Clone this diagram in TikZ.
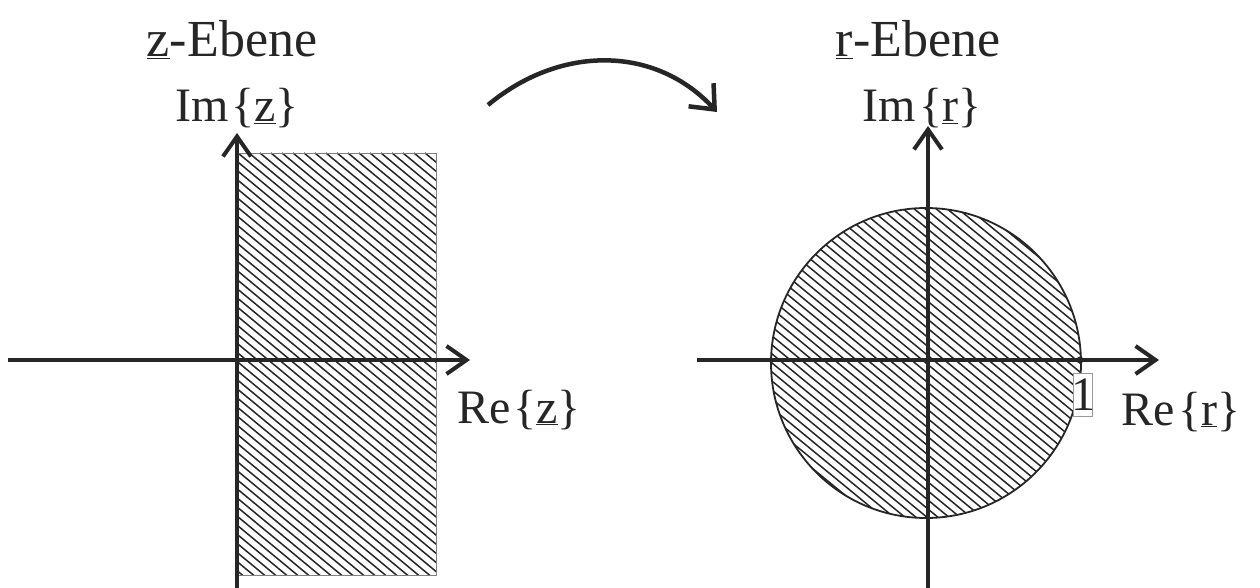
\documentclass[tikz,border=0pt]{standalone}
\usepackage{fontspec}
\setmainfont{Liberation Serif}
\usetikzlibrary{arrows.meta}
\begin{document}
\begin{tikzpicture}[x=1pt,y=-1pt,
  axis/.style={line width=4pt,draw=black!85,-{Straight Barb[length=20pt,width=28pt,line width=4pt]}},
  hatch/.style={line width=1.5pt,draw=black!85},
  lbl/.style={font=\fontsize{48}{50}\selectfont,text=black!85,inner sep=0pt,anchor=base},
  ttl/.style={font=\fontsize{52}{54}\selectfont,text=black!85,inner sep=0pt,anchor=base}]
\useasboundingbox (0,0) rectangle (1260,588);
% left hatched rectangle
\begin{scope}
  \clip (237,153) rectangle (436,575);
  \foreach \i in {-560,-549,...,220} {\draw[hatch] (237+\i,153) -- (237+\i+520,583);}
\end{scope}
\draw[line width=0.6pt,draw=black!50] (237,153) -- (436,153) -- (436,575) -- (237,575);
% right hatched circle
\begin{scope}
  \clip (926,363) circle (155);
  \foreach \i in {-352,-341,...,352} {\draw[hatch] (926+\i-195,203) -- (926+\i+195,523);}
\end{scope}
\draw[line width=1.8pt,draw=black!85] (926,363) circle (155);
% axes
\coordinate (lx0) at (8,360); \coordinate (lx1) at (470,360);
\coordinate (ly0) at (237,588); \coordinate (ly1) at (237,133);
\draw[axis] (lx0) -- (lx1);
\draw[axis] (ly0) -- (ly1);
\coordinate (rx0) at (697,360); \coordinate (rx1) at (1159,360);
\coordinate (ry0) at (928,588); \coordinate (ry1) at (928,126);
\draw[axis] (rx0) -- (rx1);
\draw[axis] (ry0) -- (ry1);
% dot at 1
\node[circle,fill=black!85,inner sep=0pt,minimum size=7pt] (one) at (1080,360) {};
\node[draw=black!40,fill=white,line width=0.6pt,inner xsep=-2.5pt,inner ysep=5.5pt,font=\fontsize{48}{50}\selectfont,text=black!85] (onel) at (1083,395) {1};
% labels
\node[ttl] (zt) at (232,57) {\underline{z}-Ebene};
\node[lbl] (zi) at (237,122) {Im\kern0.06em\{\underline{z}\}};
\node[lbl] (zr) at (519,423) {Re\kern0.06em\{\underline{z}\}};
\node[ttl] (rt) at (918,57) {\underline{r}-Ebene};
\node[lbl] (ri) at (922,122) {Im\kern0.06em\{\underline{r}\}};
\node[lbl] (rr) at (1181,425) {Re\kern0.06em\{\underline{r}\}};
% mapping arrow
\coordinate (a0) at (488,105); \coordinate (a1) at (717,112);
\draw[line width=4.5pt,draw=black!85,-{Straight Barb[length=20pt,width=34pt,line width=4.5pt]}] (a0) .. controls (560,45) and (655,45) .. (a1);
\end{tikzpicture}
\end{document}
